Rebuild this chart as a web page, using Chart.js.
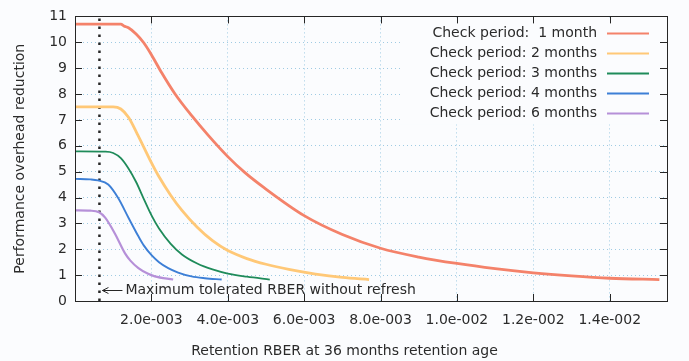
<!DOCTYPE html>
<html>
<head>
<meta charset="utf-8">
<script src="https://cdn.jsdelivr.net/npm/chart.js@4/dist/chart.umd.min.js"></script>
<style>
	html, body { margin: 0; padding: 0; background: #fbfcfe; }
	#chart { display: block; }
</style>
</head>
<body>
<canvas id="chart" width="689" height="361"></canvas>
<script>
/*
 * Performance overhead reduction vs. retention RBER, one curve per check period.
 * Styled after the gnuplot original: inward ticks, dotted grid, right-aligned key.
 */
;(function () {
	"use strict"

	if (typeof window.Chart === "undefined") return

	// ---- data ----
	var SERIES_LABELS = [
		"Check period:  1 month",
		"Check period: 2 months",
		"Check period: 3 months",
		"Check period: 4 months",
		"Check period: 6 months",
	]

	var M1_X = [0, 0.0012, 0.00128, 0.0014, 0.0016, 0.0018, 0.002, 0.00227, 0.00262, 0.00305, 0.00349, 0.004, 0.00445, 0.00495, 0.006, 0.007, 0.008, 0.009, 0.01, 0.011, 0.012, 0.013, 0.014, 0.0153]
	var M1_Y = [10.7, 10.7, 10.63, 10.56, 10.32, 9.98, 9.52, 8.82, 8.0, 7.17, 6.4, 5.58, 4.96, 4.38, 3.3, 2.57, 2.04, 1.7, 1.45, 1.25, 1.09, 0.97, 0.88, 0.83]

	var M2_X = [0, 0.001, 0.0012, 0.0014, 0.0016, 0.0018, 0.002, 0.0022, 0.0025, 0.0028, 0.0032, 0.0036, 0.004, 0.0045, 0.005, 0.0056, 0.0063, 0.007, 0.0077]
	var M2_Y = [7.5, 7.5, 7.42, 7.1, 6.55, 5.95, 5.35, 4.8, 4.1, 3.5, 2.85, 2.33, 1.95, 1.64, 1.42, 1.22, 1.04, 0.91, 0.83]

	var M3_X = [0, 0.0008, 0.001, 0.0012, 0.0014, 0.0016, 0.0018, 0.002, 0.0022, 0.0025, 0.0028, 0.0032, 0.0036, 0.004, 0.0045, 0.0051]
	var M3_Y = [5.78, 5.77, 5.72, 5.52, 5.12, 4.6, 3.95, 3.32, 2.8, 2.22, 1.8, 1.45, 1.22, 1.06, 0.94, 0.83]

	var M4_X = [0, 0.0004, 0.0006, 0.00087, 0.00113, 0.0014, 0.00166, 0.0018, 0.00201, 0.0022, 0.00244, 0.0027, 0.00305, 0.0034, 0.00384]
	var M4_Y = [4.72, 4.7, 4.66, 4.5, 3.98, 3.22, 2.5, 2.15, 1.76, 1.5, 1.27, 1.1, 0.95, 0.88, 0.83]

	var M6_X = [0, 0.0004, 0.00063, 0.00079, 0.00105, 0.00131, 0.00145, 0.00166, 0.0019, 0.00209, 0.00257]
	var M6_Y = [3.5, 3.49, 3.43, 3.22, 2.59, 1.84, 1.56, 1.27, 1.06, 0.95, 0.83]

	var X_TICKS = [0.002, 0.004, 0.006, 0.008, 0.01, 0.012, 0.014]
	var Y_TICKS = [0, 1, 2, 3, 4, 5, 6, 7, 8, 9, 10, 11]
	var X_MAX = 0.0155
	var Y_MAX = 11

	var LIMIT_RBER = 0.00064
	var NOTE_Y = 0.42
	var NOTE_TEXT = "Maximum tolerated RBER without refresh"
	var X_TITLE = "Retention RBER at 36 months retention age"
	var Y_TITLE = "Performance overhead reduction"

	// ---- style ----
	var FONT = '"DejaVu Sans", Verdana, sans-serif'
	var TEXT = "#2b2b2b"
	var BG = "#fbfcfe"
	var GRID = "#9fcbe3"
	var FRAME = "#262626"
	var COLORS = ["#f4826a", "#ffc877", "#1f8b5a", "#3d7fd6", "#b690d8"]
	var WIDTHS = [2.8, 2.8, 1.8, 1.9, 2.2]

	function pts(xs, ys) {
		return xs.map(function (x, i) {
			return { x: x, y: ys[i] }
		})
	}

	// gnuplot-style "2.0e-003"
	function fmtExp(v) {
		var e = Math.floor(Math.log10(v) + 1e-9)
		var m = v / Math.pow(10, e)
		var s = e < 0 ? "-" : "+"
		return m.toFixed(1) + "e" + s + String(Math.abs(e)).padStart(3, "0")
	}

	var curves = [
		[M1_X, M1_Y],
		[M2_X, M2_Y],
		[M3_X, M3_Y],
		[M4_X, M4_Y],
		[M6_X, M6_Y],
	]

	var datasets = curves.map(function (c, i) {
		return {
			label: SERIES_LABELS[i],
			data: pts(c[0], c[1]),
			borderColor: COLORS[i],
			backgroundColor: COLORS[i],
			borderWidth: WIDTHS[i],
			pointRadius: 0,
			cubicInterpolationMode: "monotone",
			fill: false,
		}
	})

	datasets.push({
		label: "limit",
		data: [
			{ x: LIMIT_RBER, y: 0 },
			{ x: LIMIT_RBER, y: Y_MAX },
		],
		borderColor: FRAME,
		borderWidth: 2.5,
		borderDash: [2.5, 5.5],
		borderCapStyle: "butt",
		pointRadius: 0,
		tension: 0,
		fill: false,
	})

	var gnuplotDecor = {
		id: "gnuplotDecor",
		beforeDatasetsDraw: function (chart) {
			// opaque key box hides the grid behind it
			var a = chart.chartArea
			var ctx = chart.ctx
			ctx.save()
			ctx.fillStyle = BG
			ctx.fillRect(400, a.top + 2, a.right - 403, 106)
			ctx.restore()
		},
		afterDatasetsDraw: function (chart) {
			var a = chart.chartArea
			var ctx = chart.ctx
			var xs = chart.scales.x
			var ys = chart.scales.y
			var TL = 7
			ctx.save()

			// frame
			ctx.strokeStyle = FRAME
			ctx.lineWidth = 1
			ctx.strokeRect(Math.round(a.left) + 0.5, Math.round(a.top) + 0.5, Math.round(a.right - a.left), Math.round(a.bottom - a.top))

			// inward ticks, mirrored
			ctx.beginPath()
			X_TICKS.forEach(function (v) {
				var px = Math.round(xs.getPixelForValue(v)) + 0.5
				ctx.moveTo(px, a.bottom)
				ctx.lineTo(px, a.bottom - TL)
				ctx.moveTo(px, a.top)
				ctx.lineTo(px, a.top + TL)
			})
			Y_TICKS.forEach(function (v) {
				var py = Math.round(ys.getPixelForValue(v)) + 0.5
				ctx.moveTo(a.left, py)
				ctx.lineTo(a.left + TL, py)
				ctx.moveTo(a.right, py)
				ctx.lineTo(a.right - TL, py)
			})
			ctx.stroke()

			// key: right-aligned text, sample line after it
			ctx.font = "14px " + FONT
			ctx.textBaseline = "middle"
			for (var i = 0; i < SERIES_LABELS.length; i++) {
				var ry = a.top + 17 + i * 20
				ctx.fillStyle = TEXT
				ctx.textAlign = "right"
				ctx.fillText(SERIES_LABELS[i], 597, ry)
				ctx.strokeStyle = COLORS[i]
				ctx.lineWidth = 2
				ctx.beginPath()
				ctx.moveTo(607, ry)
				ctx.lineTo(649, ry)
				ctx.stroke()
			}

			// arrow annotation
			var tipX = xs.getPixelForValue(LIMIT_RBER) + 3
			var ny = Math.round(ys.getPixelForValue(NOTE_Y)) + 0.5
			ctx.strokeStyle = FRAME
			ctx.lineWidth = 1
			ctx.beginPath()
			ctx.moveTo(tipX, ny)
			ctx.lineTo(tipX + 20, ny)
			ctx.moveTo(tipX + 6, ny - 3)
			ctx.lineTo(tipX, ny)
			ctx.lineTo(tipX + 6, ny + 3)
			ctx.stroke()
			ctx.fillStyle = TEXT
			ctx.textAlign = "left"
			ctx.fillText(NOTE_TEXT, tipX + 23, ny)

			// x title, centred on the canvas like gnuplot does
			ctx.textAlign = "center"
			ctx.fillText(X_TITLE, chart.width / 2, 351)

			ctx.restore()
		},
	}

	new Chart(document.getElementById("chart"), {
		type: "line",
		data: { datasets: datasets },
		options: {
			responsive: false,
			animation: false,
			devicePixelRatio: 1,
			layout: { padding: { top: 13, right: 22, left: 0, bottom: 0 } },
			plugins: {
				legend: { display: false },
				tooltip: { enabled: false },
			},
			scales: {
				x: {
					type: "linear",
					min: 0,
					max: X_MAX,
					afterBuildTicks: function (s) {
						s.ticks = X_TICKS.map(function (v) {
							return { value: v }
						})
					},
					afterFit: function (s) {
						s.height = 60
					},
					ticks: {
						padding: 11,
						maxRotation: 0,
						autoSkip: false,
						color: TEXT,
						font: { family: FONT, size: 14 },
						callback: function (v) {
							return fmtExp(v)
						},
					},
					grid: { color: GRID, lineWidth: 1, drawTicks: false },
					border: { display: false, dash: [1, 3] },
				},
				y: {
					min: 0,
					max: Y_MAX,
					afterBuildTicks: function (s) {
						s.ticks = Y_TICKS.map(function (v) {
							return { value: v }
						})
					},
					afterFit: function (s) {
						s.width = 75
					},
					ticks: {
						padding: 8,
						color: TEXT,
						font: { family: FONT, size: 14 },
					},
					grid: { color: GRID, lineWidth: 1, drawTicks: false },
					border: { display: false, dash: [1, 3] },
					title: {
						display: true,
						text: Y_TITLE,
						color: TEXT,
						font: { family: FONT, size: 14 },
						padding: { top: 12, bottom: 0 },
					},
				},
			},
		},
		plugins: [gnuplotDecor],
	})
})()
</script>
</body>
</html>
